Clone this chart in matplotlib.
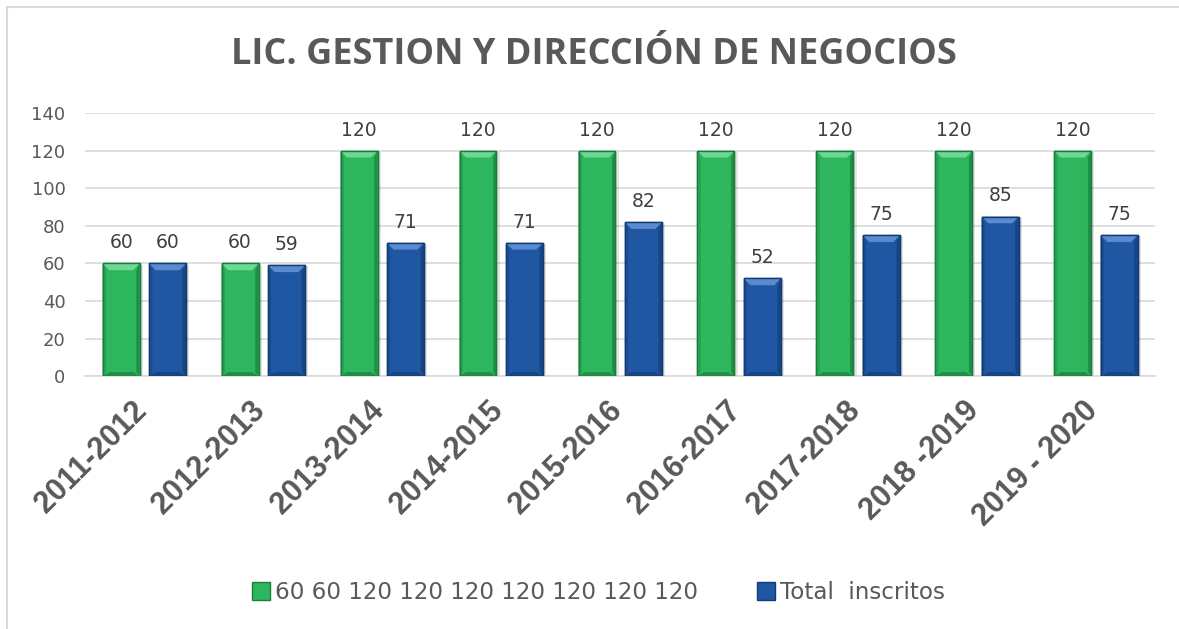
import numpy as np
import matplotlib.pyplot as plt
import matplotlib.transforms as mtransforms
from matplotlib.lines import Line2D
from matplotlib.patches import Polygon

periods = ["2011-2012", "2012-2013", "2013-2014", "2014-2015", "2015-2016",
           "2016-2017", "2017-2018", "2018 -2019", "2019 - 2020"]
cupo = [60, 60, 120, 120, 120, 120, 120, 120, 120]
inscritos = [60, 59, 71, 71, 82, 52, 75, 85, 75]
cupo_name = "60 60 120 120 120 120 120 120 120"
inscritos_name = "Total  inscritos"

GREEN = {"face": "#2db65d", "edge": "#1b7e3d", "top": "#6fd894",
         "side": "#26a352", "bottom": "#1f8f46"}
BLUE = {"face": "#1f57a3", "edge": "#133b72", "top": "#5a8bd0",
        "side": "#1b4d92", "bottom": "#174482"}
TEXT = "#595959"

fig = plt.figure(figsize=(11.79, 6.29), dpi=100)
ax = fig.add_axes([0.072, 0.402, 0.908, 0.418])

x = np.arange(len(periods))
w = 0.31
off = 0.195
bx = 0.055   # bevel size in x (data units)
by = 3.6     # bevel size in y (data units)


def bevel_bars(xs, vals, c):
    # soft shadow
    ax.bar(xs + 0.012, vals, w + 0.03, bottom=-0.6, color="#000000",
           alpha=0.10, linewidth=0, zorder=2)
    bars = ax.bar(xs, vals, w, color=c["face"], edgecolor=c["edge"],
                  linewidth=1.0, zorder=3)
    for b in bars:
        x0 = b.get_x()
        x1 = x0 + b.get_width()
        top = b.get_height()
        ax.add_patch(Polygon([(x0, top), (x1, top), (x1 - bx, top - by), (x0 + bx, top - by)],
                             closed=True, color=c["top"], linewidth=0, zorder=4))
        ax.add_patch(Polygon([(x0, 0), (x1, 0), (x1 - bx, by * 0.6), (x0 + bx, by * 0.6)],
                             closed=True, color=c["bottom"], linewidth=0, zorder=4))
        ax.add_patch(Polygon([(x0, 0), (x0 + bx * 0.5, by * 0.6), (x0 + bx * 0.5, top - by),
                              (x0, top)], closed=True, color=c["side"], linewidth=0, zorder=4))
        ax.add_patch(Polygon([(x1, 0), (x1 - bx * 0.5, by * 0.6), (x1 - bx * 0.5, top - by),
                              (x1, top)], closed=True, color=c["bottom"], linewidth=0, zorder=4))
        ax.add_patch(Polygon([(x0, 0), (x1, 0), (x1, top), (x0, top)], closed=True,
                             fill=False, edgecolor=c["edge"], linewidth=1.0, zorder=5))


bevel_bars(x - off, cupo, GREEN)
bevel_bars(x + off, inscritos, BLUE)

for xi, v in zip(x - off, cupo):
    ax.text(xi, v + 6, str(v), ha="center", va="bottom", fontsize=13.5,
            color="#404040", family="DejaVu Sans")
for xi, v in zip(x + off, inscritos):
    ax.text(xi, v + 6, str(v), ha="center", va="bottom", fontsize=13.5,
            color="#404040", family="DejaVu Sans")

ax.set_xlim(-0.5, len(periods) - 0.5)
ax.set_ylim(0, 140)
ax.set_yticks(range(0, 141, 20))
ax.yaxis.grid(True, color="#d9d9d9", linewidth=1.2)
ax.set_axisbelow(True)
for s in ["top", "right", "left"]:
    ax.spines[s].set_visible(False)
ax.spines["bottom"].set_color("#d9d9d9")
ax.spines["bottom"].set_linewidth(1.2)
ax.tick_params(axis="both", length=0, colors=TEXT)
ax.tick_params(axis="y", labelsize=13, pad=14)
ax.set_xticks(x)
ax.set_xticklabels(periods, rotation=45, ha="right", rotation_mode="anchor",
                   fontsize=22, fontweight="bold", family="Liberation Sans",
                   color=TEXT)
ax.tick_params(axis="x", pad=14)
shift = mtransforms.ScaledTranslation(-0.13, 0, fig.dpi_scale_trans)
for lbl in ax.get_xticklabels():
    lbl.set_transform(lbl.get_transform() + shift)

fig.text(0.504, 0.912, "LIC. GESTION Y DIRECCIÓN DE NEGOCIOS", ha="center",
         va="center", fontsize=26, fontweight="bold", color=TEXT,
         family=["Open Sans", "DejaVu Sans"])

handles = [
    Line2D([], [], marker="s", linestyle="", markersize=13, markerfacecolor=GREEN["face"],
           markeredgecolor=GREEN["edge"]),
    Line2D([], [], marker="s", linestyle="", markersize=13, markerfacecolor=BLUE["face"],
           markeredgecolor=BLUE["edge"]),
]
leg = fig.legend(handles, [cupo_name, inscritos_name], loc="center",
                 bbox_to_anchor=(0.508, 0.058), ncol=2, frameon=False,
                 handlelength=0.7, handletextpad=0.25, columnspacing=2.6,
                 prop={"family": "DejaVu Sans", "size": 16.6})
for t in leg.get_texts():
    t.set_color(TEXT)

# chart border (left and top visible)
fig.add_artist(Line2D([0.006, 0.006], [0, 0.989], color="#d9d9d9", linewidth=1.5))
fig.add_artist(Line2D([0.006, 1.0], [0.989, 0.989], color="#d9d9d9", linewidth=1.5))

fig.savefig("out.png", dpi=100)
